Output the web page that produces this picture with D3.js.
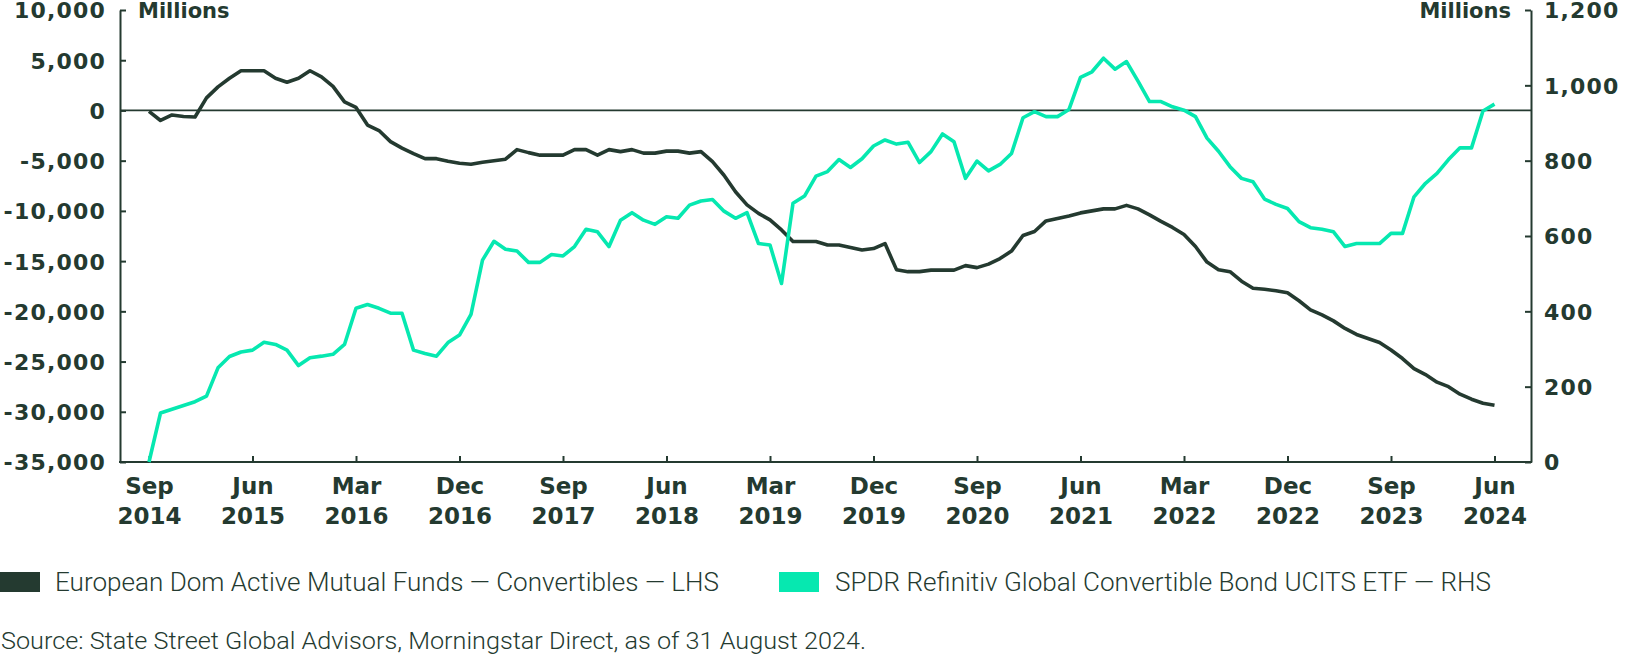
<!DOCTYPE html>
<html><head><meta charset="utf-8">
<script src="https://cdn.jsdelivr.net/npm/d3@7"></script>
<style>
body{margin:0;background:#fff;}
svg{display:block;background:#fff;}
</style></head><body>
<svg id="chart" width="1626" height="656"></svg>
<script>
// ---- data (monthly, Sep 2014 .. Jun 2024) ----
const firstMonth = "Sep 2014";
const mutualFunds = [
  -100,-1000,-450,-600,-650,1250,2350,3200,3950,3950,
  3950,3200,2800,3200,3950,3350,2400,850,300,-1450,
  -2000,-3100,-3750,-4300,-4800,-4800,-5050,-5250,-5350,-5150,
  -5000,-4850,-3900,-4200,-4450,-4450,-4450,-3900,-3900,-4450,
  -3900,-4100,-3900,-4250,-4250,-4050,-4050,-4250,-4100,-5100,
  -6450,-8100,-9400,-10250,-10900,-11900,-13050,-13050,-13050,-13400,
  -13400,-13650,-13900,-13750,-13250,-15850,-16050,-16050,-15900,-15900,
  -15900,-15450,-15650,-15300,-14750,-14000,-12450,-12050,-11000,-10750,
  -10500,-10200,-10000,-9800,-9800,-9450,-9800,-10400,-11050,-11650,
  -12350,-13550,-15100,-15850,-16050,-17000,-17700,-17800,-17950,-18150,
  -18950,-19850,-20350,-20950,-21700,-22300,-22700,-23100,-23850,-24700,
  -25700,-26300,-27050,-27500,-28250,-28750,-29150,-29350
];
const spdrEtf = [
  0,130,140,150,160,175,250,280,292,297,
  318,312,297,256,277,281,286,312,408,418,
  408,395,395,297,288,281,317,337,392,536,
  586,565,560,530,530,551,547,572,618,611,
  572,642,662,642,631,651,647,682,693,697,
  666,647,662,580,576,474,687,706,759,771,
  803,782,805,839,855,844,849,795,824,871,
  850,753,799,773,790,819,914,930,917,917,
  936,1021,1036,1072,1043,1063,1011,957,957,943,
  934,917,860,825,784,753,744,698,684,673,
  638,622,618,611,572,580,580,580,607,607,
  704,740,766,803,834,834,932,950
];
const xTickLabels = [
  ["Sep","2014"],["Jun","2015"],["Mar","2016"],["Dec","2016"],["Sep","2017"],
  ["Jun","2018"],["Mar","2019"],["Dec","2019"],["Sep","2020"],["Jun","2021"],
  ["Mar","2022"],["Dec","2022"],["Sep","2023"],["Jun","2024"]
];
const xTickStep = 9; // months between labelled ticks
const leftTicks = [10000,5000,0,-5000,-10000,-15000,-20000,-25000,-30000,-35000];
const rightTicks = [0,200,400,600,800,1000,1200];
const seriesNames = [
  "European Dom Active Mutual Funds \u2014 Convertibles \u2014 LHS",
  "SPDR Refinitiv Global Convertible Bond UCITS ETF \u2014 RHS"
];
const unitLabel = "Millions";
const sourceText = "Source: State Street Global Advisors, Morningstar Direct, as of 31 August 2024.";

(function () {
const DARK = "#243a30", MINT = "#06e8b0";
const AX_FONT = "'DejaVu Sans', sans-serif";
const TXT_FONT = "Roboto, 'Liberation Sans', sans-serif";

const svg = d3.select("#chart");
const pL = 120, pR = 1531, pT = 10, pB = 462;

const n = mutualFunds.length;
const x = d3.scaleLinear().domain([0, n - 1]).range([149, 1494.5]);
const yL = d3.scaleLinear().domain([-35000, 10000]).range([pB, pT]);
const yR = d3.scaleLinear().domain([0, 1200]).range([pB, pT]);
const fmt = d3.formatLocale({decimal: ".", thousands: ",", grouping: [3], currency: ["", ""], minus: "-"}).format(",");

function styleAxis(g, fontSize, spacing) {
  g.select(".domain").attr("stroke", DARK).attr("stroke-width", 2);
  g.selectAll(".tick line").attr("stroke", DARK).attr("stroke-width", 2);
  g.selectAll(".tick text")
    .attr("fill", DARK)
    .style("font-family", AX_FONT)
    .style("font-weight", "bold")
    .style("font-size", fontSize + "px")
    .style("letter-spacing", spacing + "px");
}

// zero line
svg.append("line")
  .attr("x1", pL).attr("x2", pR)
  .attr("y1", yL(0)).attr("y2", yL(0))
  .attr("stroke", DARK).attr("stroke-width", 1.8);

// left axis
const gL = svg.append("g").attr("transform", `translate(${pL},0)`)
  .call(d3.axisLeft(yL).tickValues(leftTicks).tickFormat(fmt).tickSize(-6).tickSizeOuter(0).tickPadding(14));
styleAxis(gL, 22, 1.2);
gL.selectAll(".tick text").attr("dy", "0.36em");

// right axis
const gR = svg.append("g").attr("transform", `translate(${pR},0)`)
  .call(d3.axisRight(yR).tickValues(rightTicks).tickFormat(fmt).tickSize(-6).tickSizeOuter(0).tickPadding(13));
styleAxis(gR, 22, 1.2);
gR.selectAll(".tick text").attr("dy", "0.36em");

// bottom axis
const xTickVals = xTickLabels.map((d, i) => i * xTickStep);
const gB = svg.append("g").attr("transform", `translate(0,${pB})`)
  .call(d3.axisBottom(x).tickValues(xTickVals).tickSize(-6).tickSizeOuter(0));
gB.select(".domain").remove();
styleAxis(gB, 23, 0);
gB.selectAll(".tick text").each(function(d, i) {
  const t = d3.select(this).text(null).attr("y", null).attr("dy", null);
  const lab = xTickLabels[i];
  t.append("tspan").attr("x", 0).attr("y", 32).text(lab[0]);
  t.append("tspan").attr("x", 0).attr("y", 62).text(lab[1]);
});
svg.append("line")
  .attr("x1", pL - 1).attr("x2", pR + 1)
  .attr("y1", pB).attr("y2", pB)
  .attr("stroke", DARK).attr("stroke-width", 2);

// unit labels
svg.append("text").attr("x", 138).attr("y", 18).text(unitLabel)
  .attr("fill", DARK).style("font-family", AX_FONT).style("font-weight", "bold").style("font-size", "21px");
svg.append("text").attr("x", 1511).attr("y", 18).attr("text-anchor", "end").text(unitLabel)
  .attr("fill", DARK).style("font-family", AX_FONT).style("font-weight", "bold").style("font-size", "21px");

// lines
const lineL = d3.line().x((d, i) => x(i)).y(d => yL(d));
const lineR = d3.line().x((d, i) => x(i)).y(d => yR(d));
svg.append("path").datum(mutualFunds).attr("d", lineL)
  .attr("fill", "none").attr("stroke", DARK).attr("stroke-width", 3.6).attr("stroke-linejoin", "round");
svg.append("path").datum(spdrEtf).attr("d", lineR)
  .attr("fill", "none").attr("stroke", MINT).attr("stroke-width", 3.6).attr("stroke-linejoin", "round");

// legend
const legend = [
  {name: seriesNames[0], color: DARK, rx: 0, tx: 55, len: 664},
  {name: seriesNames[1], color: MINT, rx: 779, tx: 835, len: 656}
];
legend.forEach(l => {
  svg.append("rect").attr("x", l.rx).attr("y", 572).attr("width", 40).attr("height", 20).attr("fill", l.color);
  svg.append("text").attr("x", l.tx).attr("y", 591).text(l.name)
    .attr("fill", DARK).attr("textLength", l.len).attr("lengthAdjust", "spacingAndGlyphs")
    .style("font-family", TXT_FONT).style("font-weight", 300).style("font-size", "25px");
});

// source
svg.append("text").attr("x", 1).attr("y", 649).text(sourceText)
  .attr("fill", DARK).attr("textLength", 865).attr("lengthAdjust", "spacingAndGlyphs")
  .style("font-family", TXT_FONT).style("font-weight", 300).style("font-size", "24px");
})();
</script>
</body></html>
